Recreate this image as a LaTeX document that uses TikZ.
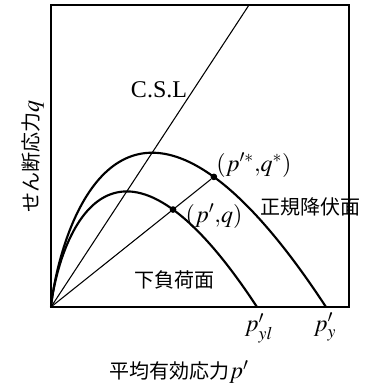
\documentclass[tikz,border=0pt]{standalone}
\usepackage{mathptmx}
\usepackage{fontspec}
\setmainfont{Liberation Serif}
\newfontfamily\jpfont{Noto Sans CJK JP}
\usetikzlibrary{positioning}

\tikzset{
  yieldcurve/.style={line width=1.6pt},
  thinline/.style={line width=0.8pt},
  statedot/.style={circle,fill=black,inner sep=0pt,minimum size=5pt},
  latin/.style={font=\fontsize{18}{21}\selectfont}
}

\begin{document}
\begin{tikzpicture}[x=0.75pt,y=0.75pt,every node/.style={font=\fontsize{15}{18}\selectfont}]
  \useasboundingbox (-51,-78) rectangle (314,307);

  % Frame of the p'-q plane
  \coordinate (O) at (0,0);
  \coordinate (frametop) at (298,302);
  \draw[line width=1pt] (O) rectangle (frametop);

  % Critical state line
  \coordinate (cslend) at (198,302);
  \draw[thinline] (O) -- (cslend);
  \node[latin] (csl) at (108,217) {C.S.L};

  % Normal yield surface and subloading surface
  \draw[yieldcurve] plot[domain=0.05:275,samples=300,smooth]
    (\x,{1.525*\x*ln(275/\x)});
  \draw[yieldcurve] plot[domain=0.05:206,samples=300,smooth]
    (\x,{1.525*\x*ln(206/\x)});

  % Current stress and its conjugate point
  \node[statedot] (pq) at (122,97.45) {};
  \node[statedot] (pqstar) at (162.9,130.1) {};
  \draw[thinline] (O) -- (pqstar);
  \node[latin] (pqlabel) at (163,91) {$(p'{,}q)$};
  \node[latin] (pqstarlabel) at (203,142) {$(p'^{*}{,}q^{*})$};

  % Surface names
  \node (normal) at (259,100) {\jpfont 正規降伏面};
  \node (subload) at (123,27) {\jpfont 下負荷面};

  % Intercepts on the p' axis
  \node[latin] (pyl) at (208,-21) {$p'_{yl}$};
  \node[latin] (py) at (274,-20) {$p'_{y}$};

  % Axis titles
  \node (xtitle) at (128,-65) {{\jpfont 平均有効応力}{\fontsize{18}{21}\selectfont$p'$}};
  \node[rotate=90] (ytitle) at (-18,150) {{\jpfont せん断応力}{\fontsize{18}{21}\selectfont$q$}};
\end{tikzpicture}
\end{document}
